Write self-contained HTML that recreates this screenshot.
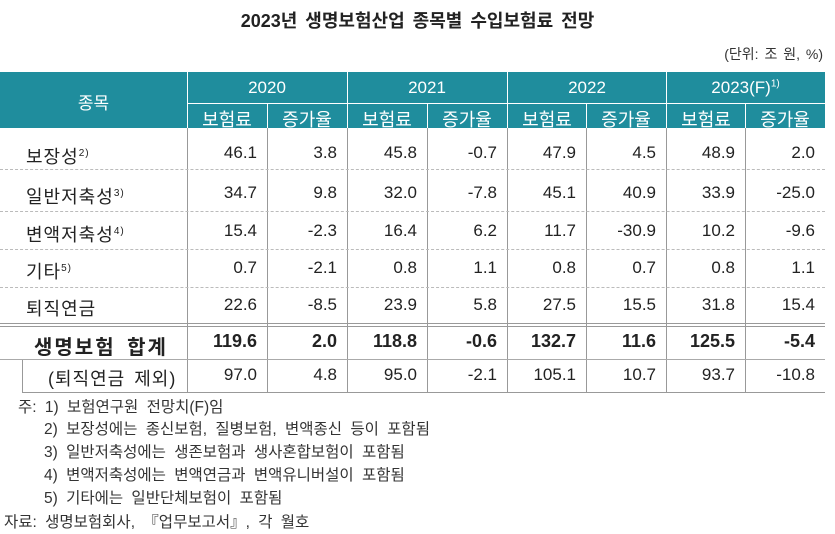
<!DOCTYPE html>
<html><head><meta charset="utf-8"><style>
body{margin:0;width:835px;height:534px;background:#fff;font-family:"Liberation Sans","Noto Sans CJK KR",sans-serif;color:#222;position:relative;overflow:hidden}
.a{position:absolute;white-space:nowrap}
.title{left:0;width:835px;text-align:center;top:7px;font-size:18px;font-weight:bold;word-spacing:3px}
.unit{right:12px;top:44px;font-size:14px;color:#333;word-spacing:2px}
.hd{position:absolute;background:#1f8d9d;left:0;width:825px;top:72px;height:56px}
.hl{position:absolute;background:#fff}
.cell{position:absolute;color:#fff;font-size:17px;text-align:center}
.r{position:absolute;font-size:18px;white-space:nowrap}
.n{position:absolute;font-size:17px;text-align:right;width:70px}
.note{position:absolute;font-size:15.5px;color:#333;word-spacing:4px;white-space:nowrap}
.vl{position:absolute;width:1px;background:#999}
.dl{position:absolute;left:0;width:825px;border-top:1px dashed #bbb;height:0}
</style></head><body>
<div class="a title">2023년 생명보험산업 종목별 수입보험료 전망</div>
<div class="a unit">(단위: 조 원, %)</div>
<div class="hd"></div>
<div class="hl" style="left:187px;top:72px;width:1px;height:56px"></div>
<div class="hl" style="left:347px;top:72px;width:1px;height:56px"></div>
<div class="hl" style="left:507px;top:72px;width:1px;height:56px"></div>
<div class="hl" style="left:666px;top:72px;width:1px;height:56px"></div>
<div class="hl" style="left:267px;top:103px;width:1px;height:25px"></div>
<div class="hl" style="left:427px;top:103px;width:1px;height:25px"></div>
<div class="hl" style="left:586px;top:103px;width:1px;height:25px"></div>
<div class="hl" style="left:745px;top:103px;width:1px;height:25px"></div>
<div class="hl" style="left:187px;top:103px;width:638px;height:1px"></div>
<div class="cell" style="left:0;width:187px;top:89px">종목</div>
<div class="cell" style="left:187px;width:160px;top:78px">2020</div>
<div class="cell" style="left:347px;width:160px;top:78px">2021</div>
<div class="cell" style="left:507px;width:160px;top:78px">2022</div>
<div class="cell" style="left:666px;width:159px;top:78px">2023(F)<sup style="font-size:10px">1)</sup></div>
<div class="cell" style="left:187px;width:80px;top:106px;font-size:18px">보험료</div>
<div class="cell" style="left:267px;width:80px;top:106px;font-size:18px">증가율</div>
<div class="cell" style="left:347px;width:80px;top:106px;font-size:18px">보험료</div>
<div class="cell" style="left:427px;width:80px;top:106px;font-size:18px">증가율</div>
<div class="cell" style="left:507px;width:80px;top:106px;font-size:18px">보험료</div>
<div class="cell" style="left:586px;width:80px;top:106px;font-size:18px">증가율</div>
<div class="cell" style="left:666px;width:80px;top:106px;font-size:18px">보험료</div>
<div class="cell" style="left:745px;width:80px;top:106px;font-size:18px">증가율</div>

<div class="vl" style="left:187px;top:128px;height:264px"></div>
<div class="vl" style="left:267px;top:128px;height:264px"></div>
<div class="vl" style="left:347px;top:128px;height:264px"></div>
<div class="vl" style="left:427px;top:128px;height:264px"></div>
<div class="vl" style="left:507px;top:128px;height:264px"></div>
<div class="vl" style="left:586px;top:128px;height:264px"></div>
<div class="vl" style="left:666px;top:128px;height:264px"></div>
<div class="vl" style="left:745px;top:128px;height:264px"></div>
<div class="vl" style="left:22px;top:359px;height:33px"></div>
<div class="dl" style="top:169px"></div>
<div class="dl" style="top:211px"></div>
<div class="dl" style="top:249px"></div>
<div class="dl" style="top:287px"></div>
<div style="position:absolute;left:0;width:825px;top:323px;height:1px;background:#999"></div>
<div style="position:absolute;left:0;width:825px;top:326px;height:1px;background:#999"></div>
<div style="position:absolute;left:0;width:825px;top:359px;height:1px;background:#aaa"></div>
<div style="position:absolute;left:22px;width:803px;top:392px;height:1px;background:#999"></div>

<div class="r" style="left:26px;top:143px;letter-spacing:1px">보장성<sup style="font-size:10px">2)</sup></div>
<div class="r" style="left:26px;top:183px;letter-spacing:1px">일반저축성<sup style="font-size:10px">3)</sup></div>
<div class="r" style="left:26px;top:221px;letter-spacing:1px">변액저축성<sup style="font-size:10px">4)</sup></div>
<div class="r" style="left:26px;top:258px;letter-spacing:1px">기타<sup style="font-size:10px">5)</sup></div>
<div class="r" style="left:26px;top:295px;letter-spacing:1px">퇴직연금</div>
<div class="r" style="left:34px;top:331px;font-weight:bold;font-size:20px;letter-spacing:2px;word-spacing:4px">생명보험 합계</div>
<div class="r" style="left:48px;top:365px;letter-spacing:1px;word-spacing:3px">(퇴직연금 제외)</div>

<div id="nums"></div>
<script>
var rows=[[143,["46.1","3.8","45.8","-0.7","47.9","4.5","48.9","2.0"]],
[183,["34.7","9.8","32.0","-7.8","45.1","40.9","33.9","-25.0"]],
[221,["15.4","-2.3","16.4","6.2","11.7","-30.9","10.2","-9.6"]],
[258,["0.7","-2.1","0.8","1.1","0.8","0.7","0.8","1.1"]],
[295,["22.6","-8.5","23.9","5.8","27.5","15.5","31.8","15.4"]],
[331,["119.6","2.0","118.8","-0.6","132.7","11.6","125.5","-5.4"],1],
[365,["97.0","4.8","95.0","-2.1","105.1","10.7","93.7","-10.8"]]];
var R=[257,337,417,497,576,656,735,815],h="";
rows.forEach(function(r){r[1].forEach(function(v,i){h+='<div class="n" style="left:'+(R[i]-70)+'px;top:'+r[0]+'px;'+(r[2]?'font-weight:bold;font-size:18px':'')+'">'+v+'</div>';});});
document.getElementById("nums").innerHTML=h;
</script>

<div class="note" style="left:18px;top:395px">주: 1) 보험연구원 전망치(F)임</div>
<div class="note" style="left:44px;top:417px">2) 보장성에는 종신보험, 질병보험, 변액종신 등이 포함됨</div>
<div class="note" style="left:44px;top:440px">3) 일반저축성에는 생존보험과 생사혼합보험이 포함됨</div>
<div class="note" style="left:44px;top:463px">4) 변액저축성에는 변액연금과 변액유니버설이 포함됨</div>
<div class="note" style="left:44px;top:486px">5) 기타에는 일반단체보험이 포함됨</div>
<div class="note" style="left:4px;top:510px">자료: 생명보험회사, 『업무보고서』, 각 월호</div>
</body></html>
